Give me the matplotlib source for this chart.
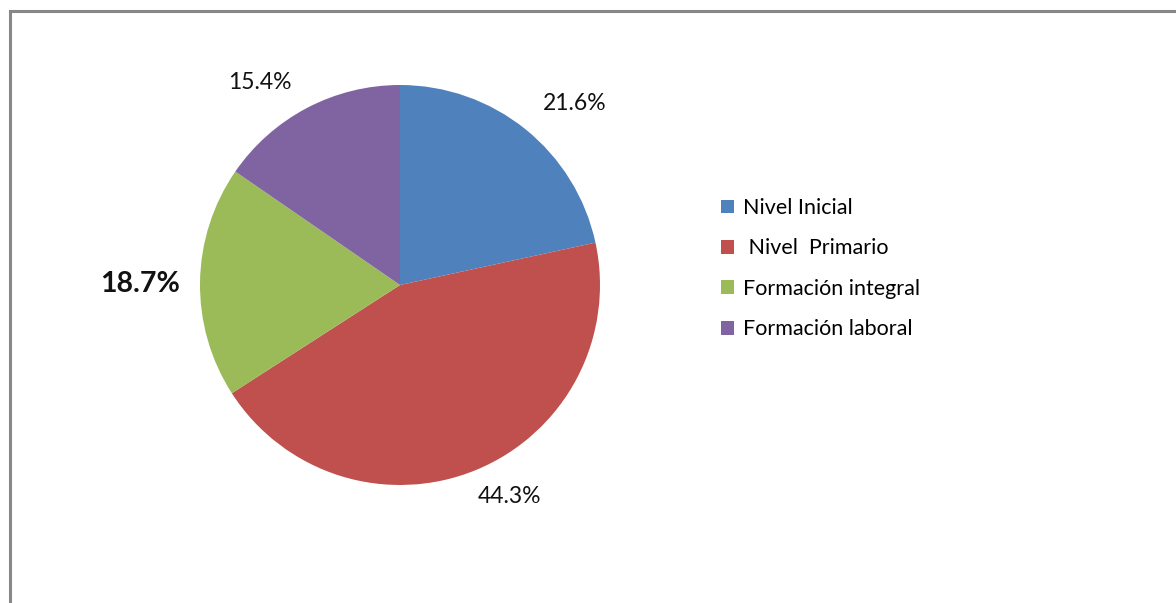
import matplotlib.pyplot as plt
from matplotlib.patches import Rectangle
import numpy as np

plt.rcParams['font.family'] = ['Lato', 'DejaVu Sans']

categories = ['Nivel Inicial', ' Nivel  Primario', 'Formación integral', 'Formación laboral']
values = [21.6, 44.3, 18.7, 15.4]
colors = ['#4F81BD', '#C0504D', '#9BBB59', '#8064A2']

W, H = 1176, 603
fig = plt.figure(figsize=(W / 100, H / 100), dpi=100)
ax = fig.add_axes([0, 0, 1, 1])

# pie in pixel space (y measured upward)
cx, cy, r = 400, H - 285, 200
wedges, _ = ax.pie(values, colors=colors, startangle=90, counterclock=False,
                   center=(cx, cy), radius=r, wedgeprops=dict(linewidth=0))
ax.set_xlim(0, W)
ax.set_ylim(0, H)
ax.set_aspect('equal')
ax.axis('off')

# label placement (angle in degrees, distance in radii), excel "best fit"-like
label_place = [(46, 1.26), (-62.6, 1.19), (179.8, 1.30), (124.6, 1.23)]
for v, (ang, dist) in zip(values, label_place):
    a = np.deg2rad(ang)
    bold = v == 18.7
    ax.text(cx + dist * r * np.cos(a), cy + dist * r * np.sin(a), f'{v:.1f}%',
            ha='center', va='center', fontsize=20.5 if bold else 16.5,
            fontweight='bold' if bold else 'normal', color='#111111')

ax.legend(wedges, categories, loc='upper left', bbox_to_anchor=(721 / W, 1 - 198 / H),
          bbox_transform=fig.transFigure, frameon=False, fontsize=15.5,
          handlelength=0.6, handleheight=0.6, handletextpad=0.4, labelspacing=0.95,
          borderaxespad=0, borderpad=0)

fig.patches.append(Rectangle((10 / W, -0.1), 1.2, 1.1 - 10.5 / H, transform=fig.transFigure,
                             fill=False, edgecolor='#878787', linewidth=2.2))

fig.savefig('out.png', dpi=100)
